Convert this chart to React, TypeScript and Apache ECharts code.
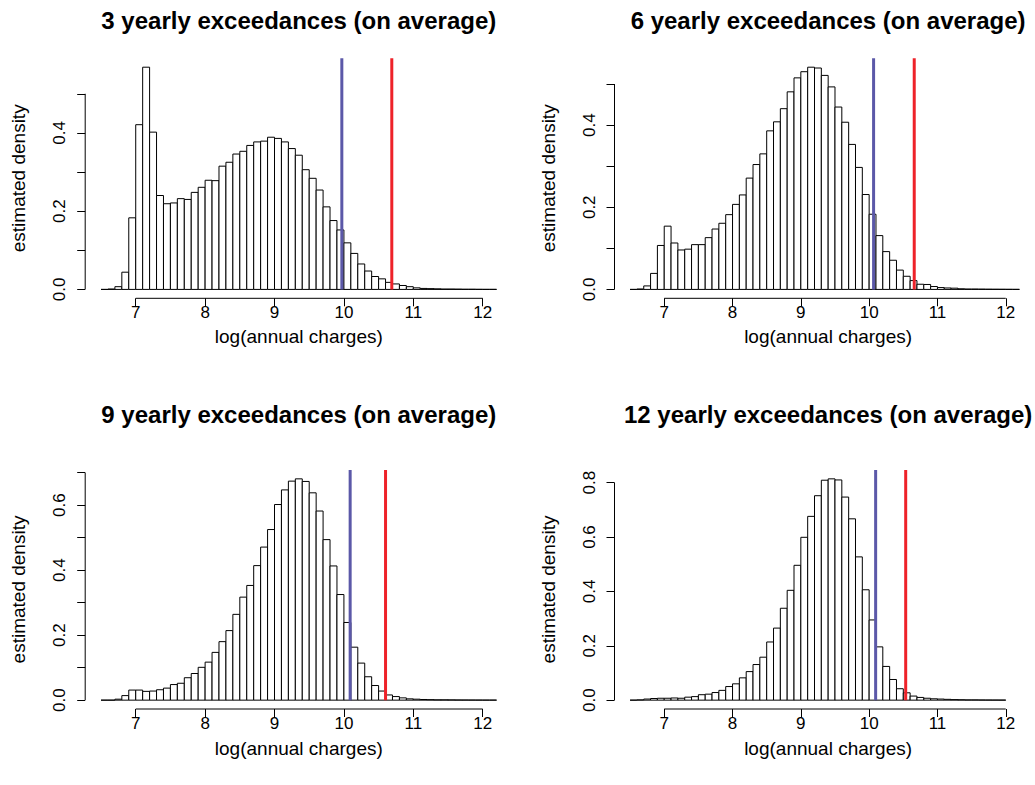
import React, { useEffect, useRef } from "react";
import * as echarts from "echarts";

// ---------------- data ----------------
const BREAK_START = 6.5;
const BIN_WIDTH = 0.1;
const XLIM_BREAKS = [6.5, 12.2];
const X_TICKS = [7, 8, 9, 10, 11, 12];

const panelTitles = [
  "3 yearly exceedances (on average)",
  "6 yearly exceedances (on average)",
  "9 yearly exceedances (on average)",
  "12 yearly exceedances (on average)",
];

// densities of bins of width 0.1 starting at 6.5
const density3 = [
  0, 0.001, 0.007, 0.044, 0.183,
  0.421, 0.568, 0.402, 0.24, 0.219, 0.221, 0.232, 0.23, 0.248, 0.261,
  0.279, 0.278, 0.315, 0.325, 0.346, 0.353, 0.368, 0.377, 0.379, 0.389,
  0.386, 0.377, 0.36, 0.343, 0.306, 0.284, 0.254, 0.211, 0.176, 0.152,
  0.119, 0.092, 0.065, 0.047, 0.033, 0.027, 0.018, 0.014, 0.01, 0.007,
  0.004, 0.0025, 0.002, 0.0015, 0.001, 0.001, 0.0008, 0.0005, 0.0005, 0.0003,
  0.0002, 0.0002,
];
const density6 = [
  0, 0.001, 0.0085, 0.039, 0.107,
  0.154, 0.113, 0.096, 0.098, 0.109, 0.109, 0.126, 0.147, 0.161, 0.182,
  0.207, 0.23, 0.271, 0.304, 0.33, 0.386, 0.408, 0.44, 0.481, 0.515,
  0.53, 0.541, 0.539, 0.521, 0.493, 0.444, 0.407, 0.353, 0.297, 0.231,
  0.183, 0.131, 0.092, 0.071, 0.047, 0.032, 0.0215, 0.0126, 0.012, 0.007,
  0.0045, 0.0035, 0.003, 0.0015, 0.001, 0.001, 0.0008, 0.0006, 0.0005, 0.0004,
  0.0003, 0.0002,
];
const density9 = [
  0, 0, 0.003, 0.014, 0.031,
  0.031, 0.027, 0.028, 0.032, 0.037, 0.048, 0.052, 0.069, 0.082, 0.101,
  0.117, 0.147, 0.18, 0.214, 0.264, 0.317, 0.353, 0.414, 0.471, 0.525,
  0.602, 0.647, 0.674, 0.681, 0.673, 0.638, 0.582, 0.494, 0.413, 0.325,
  0.239, 0.163, 0.114, 0.072, 0.045, 0.028, 0.016, 0.011, 0.007, 0.004,
  0.003, 0.002, 0.0015, 0.001, 0.001, 0.0008, 0.0006, 0.0005, 0.0004, 0.0003,
  0.0002, 0.0002,
];
const density12 = [
  0, 0.001, 0.004, 0.006, 0.007,
  0.007, 0.008, 0.007, 0.011, 0.013, 0.02, 0.022, 0.028, 0.036, 0.05,
  0.06, 0.082, 0.105, 0.131, 0.158, 0.214, 0.265, 0.338, 0.404, 0.496,
  0.599, 0.676, 0.752, 0.809, 0.814, 0.81, 0.747, 0.667, 0.527, 0.406,
  0.295, 0.196, 0.124, 0.076, 0.042, 0.027, 0.015, 0.01, 0.007, 0.005,
  0.004, 0.003, 0.002, 0.0015, 0.001, 0.001, 0.0007, 0.0005, 0.0004, 0.0003,
];

const blueLines = [9.97, 10.065, 10.09, 10.095];
const redLines = [10.69, 10.66, 10.6, 10.535];

const yTickValues = [
  [0, 0.1, 0.2, 0.3, 0.4, 0.5],
  [0, 0.1, 0.2, 0.3, 0.4, 0.5],
  [0, 0.1, 0.2, 0.3, 0.4, 0.5, 0.6, 0.7],
  [0, 0.2, 0.4, 0.6, 0.8],
];
const yLabelValues = [
  [0, 0.2, 0.4],
  [0, 0.2, 0.4],
  [0, 0.2, 0.4, 0.6],
  [0, 0.2, 0.4, 0.6, 0.8],
];

const X_TITLE = "log(annual charges)";
const Y_TITLE = "estimated density";

// ---------------- layout ----------------
const FONT = "'Liberation Sans', Arial, Helvetica, sans-serif";
const PANEL_LEFT = [85.2, 614.5, 85.2, 614.5];
const PANEL_TOP = [58.3, 58.3, 470, 470];
const PANEL_W = 427.2;
const PANEL_H = [240, 240, 239, 239];
const TITLE_Y = [20, 20, 414, 414];
const XTITLE_Y = [336, 336, 748, 748];
const YTITLE_X = [18, 548, 18, 548];
const BLUE = "#5b58a8";
const RED = "#ee2229";

const allDensities = [density3, density6, density9, density12];

function buildOption() {
  const ext = 0.04 * (XLIM_BREAKS[1] - XLIM_BREAKS[0]);
  const xMin = XLIM_BREAKS[0] - ext;
  const xMax = XLIM_BREAKS[1] + ext;

  const grids: any[] = [];
  const xAxes: any[] = [];
  const yAxes: any[] = [];
  const series: any[] = [];
  const graphics: any[] = [];

  allDensities.forEach((dens, i) => {
    const maxD = Math.max(...dens);
    const yMin = -0.04 * maxD;
    const yMax = 1.04 * maxD;
    grids.push({
      left: PANEL_LEFT[i],
      top: PANEL_TOP[i],
      width: PANEL_W,
      height: PANEL_H[i],
      containLabel: false,
    });
    xAxes.push({
      type: "value",
      gridIndex: i,
      min: xMin,
      max: xMax,
      axisLine: { show: false, onZero: false },
      splitLine: { show: false },
      axisTick: {
        show: true,
        customValues: X_TICKS,
        length: 8,
        lineStyle: { color: "#000", width: 1 },
      },
      axisLabel: {
        show: true,
        customValues: X_TICKS,
        color: "#000",
        fontSize: 17,
        fontFamily: FONT,
        margin: 6,
        formatter: (v: number) => String(v),
      },
    });
    yAxes.push({
      type: "value",
      gridIndex: i,
      min: yMin,
      max: yMax,
      axisLine: { show: false, onZero: false },
      splitLine: { show: false },
      axisTick: {
        show: true,
        customValues: yTickValues[i],
        length: 8,
        lineStyle: { color: "#000", width: 1 },
      },
      axisLabel: {
        show: true,
        customValues: yLabelValues[i],
        rotate: 90,
        color: "#000",
        fontSize: 17,
        fontFamily: FONT,
        margin: 17,
        formatter: (v: number) => v.toFixed(1),
      },
    });

    const binData = dens.map((h, k) => [
      Math.round((BREAK_START + k * BIN_WIDTH) * 10) / 10,
      Math.round((BREAK_START + (k + 1) * BIN_WIDTH) * 10) / 10,
      h,
    ]);
    series.push({
      type: "custom",
      xAxisIndex: i,
      yAxisIndex: i,
      data: binData,
      encode: { x: [0, 1], y: 2 },
      clip: false,
      z: 2,
      renderItem: (params: any, api: any) => {
        const p0 = api.coord([api.value(0), api.value(2)]);
        const p1 = api.coord([api.value(1), 0]);
        return {
          type: "rect",
          shape: {
            x: p0[0],
            y: p0[1],
            width: p1[0] - p0[0],
            height: p1[1] - p0[1],
          },
          style: { fill: "#ffffff", stroke: "#000000", lineWidth: 1 },
        };
      },
    });

    // axis lines (R style: from first to last tick)
    const yt = yTickValues[i];
    series.push({
      type: "line",
      xAxisIndex: i,
      yAxisIndex: i,
      data: [
        [X_TICKS[0], yMin],
        [X_TICKS[X_TICKS.length - 1], yMin],
      ],
      symbol: "none",
      clip: false,
      silent: true,
      lineStyle: { color: "#000", width: 1 },
      z: 3,
    });
    series.push({
      type: "line",
      xAxisIndex: i,
      yAxisIndex: i,
      data: [
        [xMin, yt[0]],
        [xMin, yt[yt.length - 1]],
      ],
      symbol: "none",
      clip: false,
      silent: true,
      lineStyle: { color: "#000", width: 1 },
      z: 3,
    });

    // reference lines
    series.push({
      type: "line",
      xAxisIndex: i,
      yAxisIndex: i,
      data: [
        [blueLines[i], 0],
        [blueLines[i], yMax],
      ],
      symbol: "none",
      silent: true,
      lineStyle: { color: BLUE, width: 3 },
      z: 5,
    });
    series.push({
      type: "line",
      xAxisIndex: i,
      yAxisIndex: i,
      data: [
        [redLines[i], 0],
        [redLines[i], yMax],
      ],
      symbol: "none",
      silent: true,
      lineStyle: { color: RED, width: 3 },
      z: 5,
    });

    const cx = PANEL_LEFT[i] + PANEL_W / 2;
    const cy = PANEL_TOP[i] + PANEL_H[i] / 2;
    graphics.push({
      type: "text",
      x: cx,
      y: TITLE_Y[i],
      style: {
        text: panelTitles[i],
        font: `bold 24px ${FONT}`,
        fill: "#000",
        textAlign: "center",
        textVerticalAlign: "middle",
      },
    });
    graphics.push({
      type: "text",
      x: cx,
      y: XTITLE_Y[i],
      style: {
        text: X_TITLE,
        font: `19px ${FONT}`,
        fill: "#000",
        textAlign: "center",
        textVerticalAlign: "middle",
      },
    });
    graphics.push({
      type: "text",
      x: YTITLE_X[i],
      y: cy,
      rotation: Math.PI / 2,
      style: {
        text: Y_TITLE,
        font: `19px ${FONT}`,
        fill: "#000",
        textAlign: "center",
        textVerticalAlign: "middle",
      },
    });
  });

  return {
    animation: false,
    backgroundColor: "#ffffff",
    grid: grids,
    xAxis: xAxes,
    yAxis: yAxes,
    series,
    graphic: graphics,
  };
}

export default function App() {
  const ref = useRef<HTMLDivElement>(null);
  useEffect(() => {
    if (!ref.current) return;
    const chart = echarts.init(ref.current, undefined, { renderer: "svg" });
    chart.setOption(buildOption());
    return () => chart.dispose();
  }, []);
  return (
    <div
      ref={ref}
      style={{
        position: "fixed",
        left: 0,
        top: 0,
        width: 1035,
        height: 785,
        background: "#fff",
      }}
    />
  );
}
